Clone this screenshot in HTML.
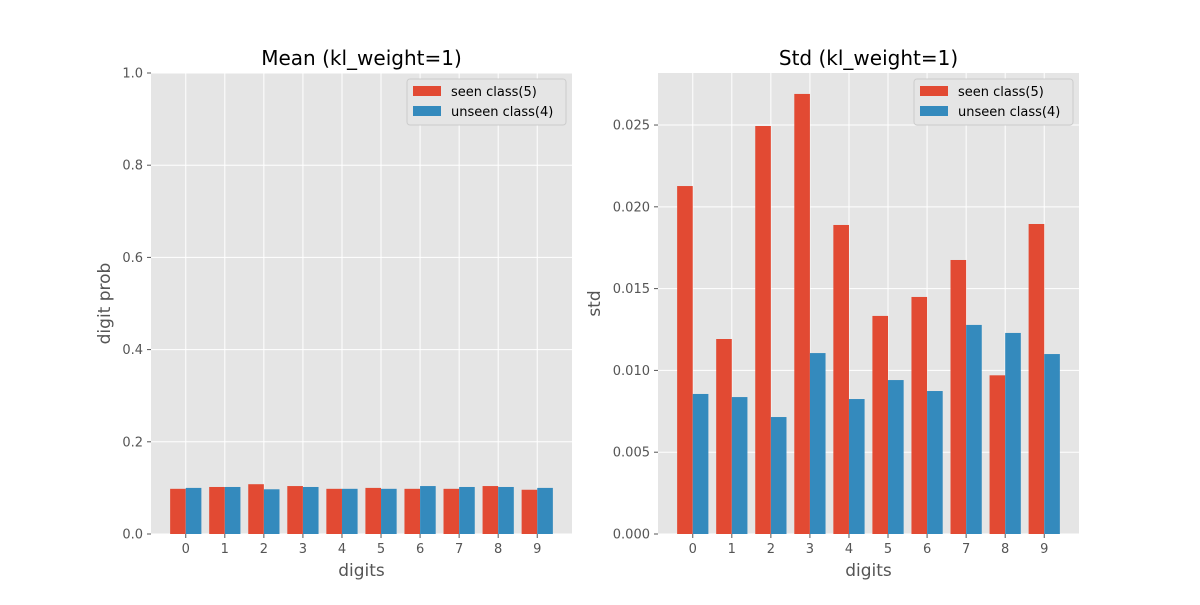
<!DOCTYPE html>
<html><head><meta charset="utf-8"><style>
body{margin:0;background:#fff;}
svg{font-family:"DejaVu Sans","Liberation Sans",sans-serif;}
</style></head><body>
<svg id="c" width="1200" height="600"></svg>
<script>
const digits=[0,1,2,3,4,5,6,7,8,9];
const meanSeen=[0.098,0.102,0.108,0.104,0.098,0.100,0.098,0.098,0.104,0.096];
const meanUnseen=[0.100,0.102,0.097,0.102,0.098,0.098,0.104,0.102,0.102,0.100];
const stdSeen=[0.02127,0.01192,0.02494,0.02690,0.01889,0.01333,0.01449,0.01675,0.00970,0.01895];
const stdUnseen=[0.00856,0.00837,0.00715,0.01106,0.00825,0.00941,0.00874,0.01278,0.01229,0.01100];
const meanTicks=[0,0.2,0.4,0.6,0.8,1.0];
const meanTickLabels=["0.0","0.2","0.4","0.6","0.8","1.0"];
const stdTicks=[0,0.005,0.01,0.015,0.02,0.025];
const stdTickLabels=["0.000","0.005","0.010","0.015","0.020","0.025"];
const NS="http://www.w3.org/2000/svg";
const svg=document.getElementById('c');
function mk(t,a,p){const e=document.createElementNS(NS,t);for(const k in a)e.setAttribute(k,a[k]);(p||svg).appendChild(e);return e;}
function panel(name,x0,title,ylabel,yMax,ticks,tickLabels,seen,unseen){
  const y0=73,w=421,h=461,xmin=-0.89,xmax=9.89;
  const g=mk('g',{});
  
  
  const sx=v=>x0+(v-xmin)/(xmax-xmin)*w;
  const sy=v=>y0+h-v/yMax*h;
  const bg=mk('rect',{x:x0,y:y0,width:w,height:h,fill:'#E5E5E5'},g);
  
  
  ticks.forEach((t,i)=>{
    const yy=sy(t);
    mk('line',{x1:x0,x2:x0+w,y1:yy,y2:yy,stroke:'#fff','stroke-width':1},g);
    mk('line',{x1:x0-4,x2:x0,y1:yy,y2:yy,stroke:'#555'},g);
    const tx=mk('text',{x:x0-8,y:yy+4.5,'text-anchor':'end','font-size':13,fill:'#555'},g);
    tx.textContent=tickLabels[i];
    
    
  });
  digits.forEach(d=>{
    const xx=sx(d);
    mk('line',{x1:xx,x2:xx,y1:y0,y2:y0+h,stroke:'#fff'},g);
    mk('line',{x1:xx,x2:xx,y1:y0+h,y2:y0+h+4,stroke:'#555'},g);
    const tx=mk('text',{x:xx,y:y0+h+19,'text-anchor':'middle','font-size':13,fill:'#555'},g);
    tx.textContent=d;
    
    
  });
  digits.forEach((d,i)=>{
    const r=mk('rect',{x:sx(d-0.4),y:sy(seen[i]),width:sx(d)-sx(d-0.4),height:sy(0)-sy(seen[i]),fill:'#E24A33'},g);
    
    
    const b=mk('rect',{x:sx(d),y:sy(unseen[i]),width:sx(d+0.4)-sx(d),height:sy(0)-sy(unseen[i]),fill:'#348ABD'},g);
    
    
  });
  const ti=mk('text',{x:x0+w/2,y:65,'text-anchor':'middle','font-size':20,fill:'#000'},g);
  ti.textContent=title;
  
  
  const xl=mk('text',{x:x0+w/2,y:576,'text-anchor':'middle','font-size':17,fill:'#555'},g);
  xl.textContent='digits';
  
  
  const yx=name==='mean'?110:600;
  const yl=mk('text',{x:yx,y:y0+h/2,'text-anchor':'middle','font-size':17,fill:'#555',transform:`rotate(-90 ${yx} ${y0+h/2})`},g);
  yl.textContent=ylabel;
  
  
  const lx=x0+w-165,ly=79;
  const lg=mk('g',{},g);
  
  
  mk('rect',{x:lx,y:ly,width:159,height:46,fill:'#E5E5E5',stroke:'#ccc',rx:3},lg);
  [['seen class(5)','#E24A33'],['unseen class(4)','#348ABD']].forEach((e,i)=>{
    mk('rect',{x:lx+6,y:ly+7+i*20,width:28,height:10,fill:e[1]},lg);
    const t=mk('text',{x:lx+44,y:ly+17+i*20,'font-size':13,fill:'#000'},lg);
    t.textContent=e[0];
    
    
  });
}
panel('mean',151,'Mean (kl_weight=1)','digit prob',1.0,meanTicks,meanTickLabels,meanSeen,meanUnseen);
panel('std',658,'Std (kl_weight=1)','std',0.02818,stdTicks,stdTickLabels,stdSeen,stdUnseen);
</script>
</body></html>
